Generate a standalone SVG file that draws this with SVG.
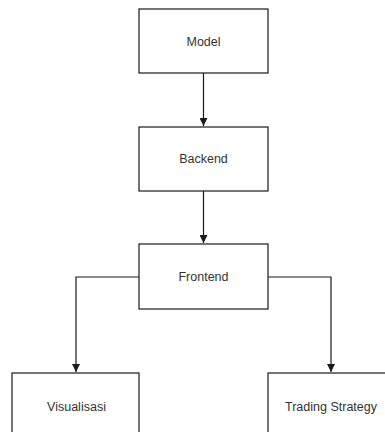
<svg xmlns="http://www.w3.org/2000/svg" width="385" height="432" viewBox="0 0 385 432">
<defs>
<style>
.box{fill:#fff;stroke:#1a1a1a;stroke-width:1.2}
.lbl{font-family:"Liberation Sans",Arial,sans-serif;font-size:12.5px;fill:#333;text-anchor:middle;dominant-baseline:central}
.con{fill:none;stroke:#1a1a1a;stroke-width:1.2}
</style>
<marker id="arr" viewBox="0 0 10 10" refX="10" refY="5" markerWidth="8" markerHeight="8" markerUnits="userSpaceOnUse" orient="auto">
<path d="M0,0 L10,5 L0,10 Z" fill="#1a1a1a"/>
</marker>
</defs>
<rect width="385" height="432" fill="#fff"/>
<g id="connectors">
<path class="con" d="M203.5,73 V126" marker-end="url(#arr)"/>
<path class="con" d="M203.5,191 V243" marker-end="url(#arr)"/>
<path class="con" d="M139,277 H76 V372" marker-end="url(#arr)"/>
<path class="con" d="M268,277 H331 V372" marker-end="url(#arr)"/>
</g>
<g id="model"><rect class="box" x="139" y="9" width="129" height="64"/><text class="lbl" x="203.5" y="42">Model</text></g>
<g id="backend"><rect class="box" x="139" y="127" width="129" height="64"/><text class="lbl" x="203.5" y="159">Backend</text></g>
<g id="frontend"><rect class="box" x="139" y="244" width="129" height="65"/><text class="lbl" x="203.5" y="277">Frontend</text></g>
<g id="visualisasi"><rect class="box" x="12" y="373" width="127" height="70"/><text class="lbl" x="76.5" y="407">Visualisasi</text></g>
<g id="trading"><rect class="box" x="268" y="373" width="130" height="70"/><text class="lbl" x="331" y="407">Trading Strategy</text></g>
</svg>
